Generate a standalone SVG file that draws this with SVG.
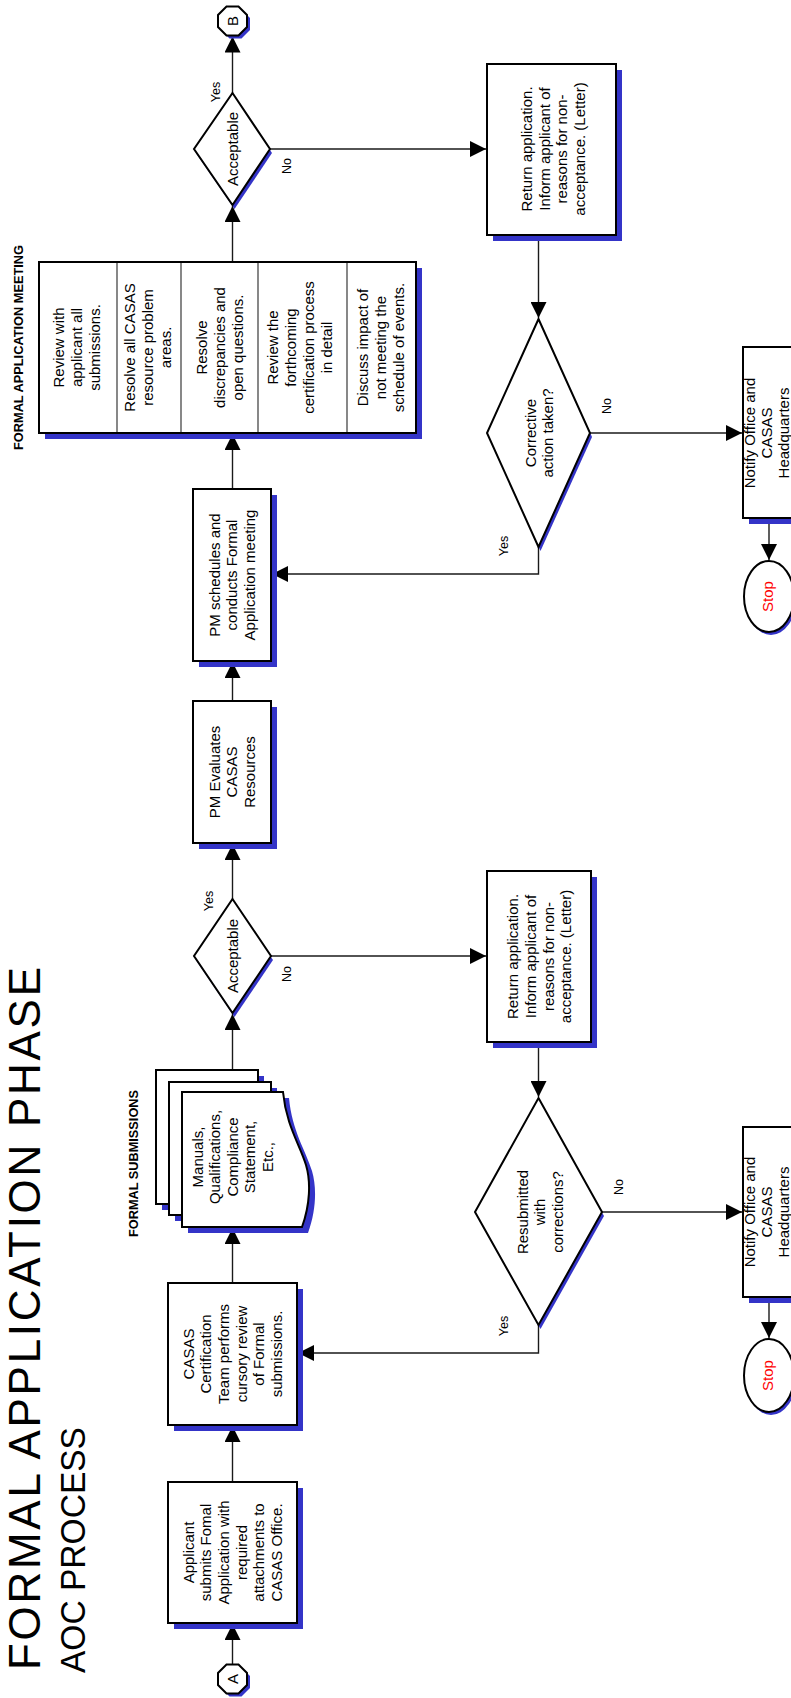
<svg xmlns="http://www.w3.org/2000/svg" width="791" height="1698" viewBox="0 0 791 1698">
<style>
.bx{fill:#fff;stroke:#000;stroke-width:2}
.sh{fill:#3434C8;stroke:none}
.t{font-family:"Liberation Sans",Arial,sans-serif;font-size:15px;fill:#000;text-anchor:middle}
.lb{font-family:"Liberation Sans",Arial,sans-serif;font-size:12.5px;fill:#000;text-anchor:middle}
.hd{font-family:"Liberation Sans",Arial,sans-serif;font-size:12.5px;font-weight:bold;fill:#000;text-anchor:middle}
.ti{font-family:"Liberation Sans",Arial,sans-serif;fill:#000}
.ln{fill:none;stroke:#1a1a1a;stroke-width:1.4}
.dv{stroke:#555;stroke-width:1.4}
.red{fill:#FF0000}
</style>
<defs>
<marker id="ar" markerUnits="userSpaceOnUse" markerWidth="17" markerHeight="16" refX="16" refY="8" orient="auto" viewBox="0 0 17 16"><path d="M0,0 L16,8 L0,16 z" fill="#000"/></marker>
</defs>
<rect width="791" height="1698" fill="#fff"/>

<g id="title">
<text class="ti" font-size="44" transform="translate(40,1670) rotate(-90)" textLength="703" lengthAdjust="spacing">FORMAL APPLICATION PHASE</text>
<text class="ti" font-size="35" transform="translate(85,1673) rotate(-90)" textLength="246" lengthAdjust="spacingAndGlyphs">AOC PROCESS</text>
</g>

<g id="label-submissions"><text class="hd" transform="translate(138,1163.5) rotate(-90)" textLength="147" lengthAdjust="spacingAndGlyphs">FORMAL SUBMISSIONS</text></g>
<g id="label-meeting"><text class="hd" transform="translate(23,347.5) rotate(-90)" textLength="205" lengthAdjust="spacingAndGlyphs">FORMAL APPLICATION MEETING</text></g>

<g id="connectors">
<path class="ln" marker-end="url(#ar)" d="M232.5,1664.5 V1624"/>
<path class="ln" marker-end="url(#ar)" d="M232.5,1482 V1426"/>
<path class="ln" marker-end="url(#ar)" d="M232.5,1283 V1228"/>
<path class="ln" marker-end="url(#ar)" d="M232.5,1070 V1014"/>
<path class="ln" marker-end="url(#ar)" d="M232.5,899 V844"/>
<path class="ln" marker-end="url(#ar)" d="M232.5,701 V662"/>
<path class="ln" marker-end="url(#ar)" d="M232.5,489 V434"/>
<path class="ln" marker-end="url(#ar)" d="M232.5,262 V206"/>
<path class="ln" marker-end="url(#ar)" d="M232.5,93 V36.5"/>
<path class="ln" marker-end="url(#ar)" d="M270,149 H486"/>
<path class="ln" marker-end="url(#ar)" d="M538.5,235 V318"/>
<path class="ln" marker-end="url(#ar)" d="M590,433 H742"/>
<path class="ln" marker-end="url(#ar)" d="M769,518 V560"/>
<path class="ln" marker-end="url(#ar)" d="M538.5,547 V574 H272"/>
<path class="ln" marker-end="url(#ar)" d="M271,956 H486"/>
<path class="ln" marker-end="url(#ar)" d="M538.5,1042 V1097"/>
<path class="ln" marker-end="url(#ar)" d="M602,1212 H742"/>
<path class="ln" marker-end="url(#ar)" d="M769,1297 V1338"/>
<path class="ln" marker-end="url(#ar)" d="M538.5,1325 V1353 H298"/>
<text class="lb" transform="translate(209,901) rotate(-90)" y="4.4">Yes</text>
<text class="lb" transform="translate(287,974) rotate(-90)" y="4.4">No</text>
<text class="lb" transform="translate(216,92) rotate(-90)" y="4.4">Yes</text>
<text class="lb" transform="translate(287,166) rotate(-90)" y="4.4">No</text>
<text class="lb" transform="translate(504,546) rotate(-90)" y="4.4">Yes</text>
<text class="lb" transform="translate(607,406) rotate(-90)" y="4.4">No</text>
<text class="lb" transform="translate(504,1326) rotate(-90)" y="4.4">Yes</text>
<text class="lb" transform="translate(619,1187) rotate(-90)" y="4.4">No</text>
</g>

<g id="start-A">
<polygon class="sh" transform="translate(3,3)" points="226.5,1664.5 238.5,1664.5 247,1673 247,1685 238.5,1693.5 226.5,1693.5 218,1685 218,1673"/>
<polygon class="bx" points="226.5,1664.5 238.5,1664.5 247,1673 247,1685 238.5,1693.5 226.5,1693.5 218,1685 218,1673"/>
<text class="t" transform="translate(232.5,1679) rotate(-90)" y="5.3">A</text>
</g>

<g id="applicant-submits">
<rect class="sh" x="174" y="1488" width="129" height="141"/>
<rect class="bx" x="168" y="1482" width="129" height="141"/>
<text class="t" transform="translate(232.5,1552.5) rotate(-90)"><tspan x="0" y="-38.7">Applicant</tspan><tspan x="0" y="-21.1">submits Fomal</tspan><tspan x="0" y="-3.5">Application with</tspan><tspan x="0" y="14.1">required</tspan><tspan x="0" y="31.7">attachments  to</tspan><tspan x="0" y="49.3">CASAS Office.</tspan></text>
</g>

<g id="casas-review">
<rect class="sh" x="174" y="1289" width="129" height="142"/>
<rect class="bx" x="168" y="1283" width="129" height="142"/>
<text class="t" transform="translate(232.5,1354) rotate(-90)"><tspan x="0" y="-38.7">CASAS</tspan><tspan x="0" y="-21.1">Certification</tspan><tspan x="0" y="-3.5">Team performs</tspan><tspan x="0" y="14.1">cursory review</tspan><tspan x="0" y="31.7">of  Formal</tspan><tspan x="0" y="49.3">submissions.</tspan></text>
</g>

<g id="formal-submissions">
<rect class="sh" x="162" y="1076" width="102" height="134"/>
<rect class="bx" x="156" y="1070" width="102" height="134"/>
<rect class="sh" x="175" y="1088" width="102" height="133"/>
<rect class="bx" x="169" y="1082" width="102" height="133"/>
<path class="sh" transform="translate(6,6)" d="M182,1092 L283,1092 C286,1125 300,1145 306,1165 C311,1182 310,1205 302,1227 L182,1227 Z"/>
<path class="bx" d="M182,1092 L283,1092 C286,1125 300,1145 306,1165 C311,1182 310,1205 302,1227 L182,1227 Z"/>
<text class="t" transform="translate(232.5,1157) rotate(-90)"><tspan x="0" y="-29.9">Manuals,</tspan><tspan x="0" y="-12.3">Qualifications,</tspan><tspan x="0" y="5.3">Compliance</tspan><tspan x="0" y="22.9">Statement,</tspan><tspan x="0" y="40.5">Etc.,</tspan></text>
</g>

<g id="acceptable-1">
<polygon class="sh" transform="translate(2,4)" points="232.5,899 271,956 232.5,1013 194,956"/>
<polygon class="bx" points="232.5,899 271,956 232.5,1013 194,956"/>
<text class="t" transform="translate(232.5,956) rotate(-90)" y="5.3">Acceptable</text>
</g>

<g id="pm-evaluates">
<rect class="sh" x="199" y="707" width="78" height="142"/>
<rect class="bx" x="193" y="701" width="78" height="142"/>
<text class="t" transform="translate(232,772) rotate(-90)"><tspan x="0" y="-12.3">PM Evaluates</tspan><tspan x="0" y="5.3">CASAS</tspan><tspan x="0" y="22.9">Resources</tspan></text>
</g>

<g id="pm-schedules">
<rect class="sh" x="199" y="495" width="78" height="172"/>
<rect class="bx" x="193" y="489" width="78" height="172"/>
<text class="t" transform="translate(232,575) rotate(-90)"><tspan x="0" y="-12.3">PM schedules and</tspan><tspan x="0" y="5.3">conducts Formal</tspan><tspan x="0" y="22.9">Application meeting</tspan></text>
</g>

<g id="formal-meeting">
<rect class="sh" x="45" y="268" width="377" height="171"/>
<rect class="bx" x="39" y="262" width="377" height="171"/>
<line class="dv" x1="117" y1="263" x2="117" y2="432"/>
<line class="dv" x1="181" y1="263" x2="181" y2="432"/>
<line class="dv" x1="258" y1="263" x2="258" y2="432"/>
<line class="dv" x1="347" y1="263" x2="347" y2="432"/>
<text class="t" transform="translate(77,347.5) rotate(-90)"><tspan x="0" y="-12.7">Review with</tspan><tspan x="0" y="5.3">applicant all</tspan><tspan x="0" y="23.3">submissions.</tspan></text>
<text class="t" transform="translate(148,347.5) rotate(-90)"><tspan x="0" y="-12.7">Resolve all CASAS</tspan><tspan x="0" y="5.3">resource problem</tspan><tspan x="0" y="23.3">areas.</tspan></text>
<text class="t" transform="translate(220,347.5) rotate(-90)"><tspan x="0" y="-12.7">Resolve</tspan><tspan x="0" y="5.3">discrepancies and</tspan><tspan x="0" y="23.3">open questions.</tspan></text>
<text class="t" transform="translate(300,347.5) rotate(-90)"><tspan x="0" y="-21.7">Review the</tspan><tspan x="0" y="-3.7">forthcoming</tspan><tspan x="0" y="14.3">certification process</tspan><tspan x="0" y="32.3">in detail</tspan></text>
<text class="t" transform="translate(380.5,347.5) rotate(-90)"><tspan x="0" y="-12.7">Discuss impact of</tspan><tspan x="0" y="5.3">not meeting the</tspan><tspan x="0" y="23.3">schedule of events.</tspan></text>
</g>

<g id="acceptable-2">
<polygon class="sh" transform="translate(2,4)" points="232.5,93 270,149 232.5,205 194,149"/>
<polygon class="bx" points="232.5,93 270,149 232.5,205 194,149"/>
<text class="t" transform="translate(232.5,149) rotate(-90)" y="5.3">Acceptable</text>
</g>

<g id="connector-B">
<polygon class="sh" transform="translate(3,3)" points="226.5,6.5 238.5,6.5 247,15 247,27 238.5,35.5 226.5,35.5 218,27 218,15"/>
<polygon class="bx" points="226.5,6.5 238.5,6.5 247,15 247,27 238.5,35.5 226.5,35.5 218,27 218,15"/>
<text class="t" transform="translate(232.5,21) rotate(-90)" y="5.3">B</text>
</g>

<g id="return-2">
<rect class="sh" x="493" y="70" width="129" height="171"/>
<rect class="bx" x="487" y="64" width="129" height="171"/>
<text class="t" transform="translate(553,149) rotate(-90)"><tspan x="0" y="-21.1">Return application.</tspan><tspan x="0" y="-3.5">Inform applicant of</tspan><tspan x="0" y="14.1">reasons for non-</tspan><tspan x="0" y="31.7">acceptance. (Letter)</tspan></text>
</g>

<g id="corrective">
<polygon class="sh" transform="translate(2,4)" points="538.5,319 590,433 538.5,547 487,433"/>
<polygon class="bx" points="538.5,319 590,433 538.5,547 487,433"/>
<text class="t" transform="translate(539,433) rotate(-90)"><tspan x="0" y="-3.5">Corrective</tspan><tspan x="0" y="14.1">action taken?</tspan></text>
</g>

<g id="notify-2">
<rect class="sh" x="749" y="353" width="52" height="171"/>
<rect class="bx" x="743" y="347" width="52" height="171"/>
<text class="t" transform="translate(767,433) rotate(-90)"><tspan x="0" y="-11.7">Notify Office and</tspan><tspan x="0" y="5.3">CASAS</tspan><tspan x="0" y="22.3">Headquarters</tspan></text>
</g>

<g id="stop-2">
<ellipse class="sh" cx="771" cy="599.5" rx="25" ry="35.5"/>
<ellipse class="bx" cx="769" cy="596.5" rx="25" ry="35.5"/>
<text class="t red" transform="translate(768,596.5) rotate(-90)" y="5.3">Stop</text>
</g>

<g id="return-1">
<rect class="sh" x="493" y="877" width="104" height="171"/>
<rect class="bx" x="487" y="871" width="104" height="171"/>
<text class="t" transform="translate(539.5,956.5) rotate(-90)"><tspan x="0" y="-21.1">Return application.</tspan><tspan x="0" y="-3.5">Inform applicant of</tspan><tspan x="0" y="14.1">reasons for non-</tspan><tspan x="0" y="31.7">acceptance. (Letter)</tspan></text>
</g>

<g id="resubmitted">
<polygon class="sh" transform="translate(2,4)" points="538.5,1098 602,1212 538.5,1325 475,1212"/>
<polygon class="bx" points="538.5,1098 602,1212 538.5,1325 475,1212"/>
<text class="t" transform="translate(540,1212) rotate(-90)"><tspan x="0" y="-12.3">Resubmitted</tspan><tspan x="0" y="5.3">with</tspan><tspan x="0" y="22.9">corrections?</tspan></text>
</g>

<g id="notify-1">
<rect class="sh" x="749" y="1133" width="52" height="170"/>
<rect class="bx" x="743" y="1127" width="52" height="170"/>
<text class="t" transform="translate(767,1212) rotate(-90)"><tspan x="0" y="-11.7">Notify Office and</tspan><tspan x="0" y="5.3">CASAS</tspan><tspan x="0" y="22.3">Headquarters</tspan></text>
</g>

<g id="stop-1">
<ellipse class="sh" cx="771" cy="1378.5" rx="25" ry="36.5"/>
<ellipse class="bx" cx="769" cy="1375.5" rx="25" ry="36.5"/>
<text class="t red" transform="translate(768,1375.5) rotate(-90)" y="5.3">Stop</text>
</g>
</svg>
